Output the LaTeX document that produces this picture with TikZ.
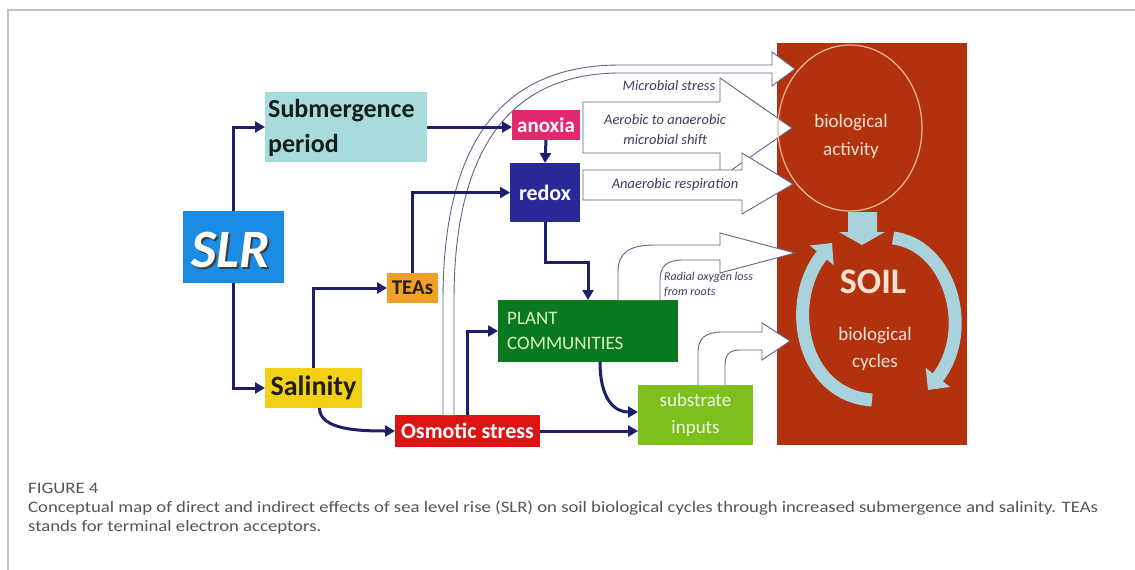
\documentclass[tikz,border=0pt]{standalone}
\usepackage{fontspec}
\setmainfont{Carlito}
\usetikzlibrary{arrows.meta,calc,shapes.geometric}
\definecolor{slrc}{RGB}{27,140,227}
\definecolor{subc}{RGB}{168,220,220}
\definecolor{salc}{RGB}{242,208,20}
\definecolor{teac}{RGB}{240,160,40}
\definecolor{anoxc}{RGB}{226,40,110}
\definecolor{redoxc}{RGB}{40,40,150}
\definecolor{plantc}{RGB}{10,120,30}
\definecolor{substc}{RGB}{125,192,30}
\definecolor{osmc}{RGB}{222,20,20}
\definecolor{navy}{RGB}{30,30,110}
\definecolor{holc}{RGB}{95,100,135}
\definecolor{labc}{RGB}{60,62,95}
\definecolor{soilc}{RGB}{178,50,14}
\definecolor{peach}{RGB}{250,225,210}
\definecolor{ringc}{RGB}{245,185,150}
\definecolor{soilarrow}{RGB}{168,210,220}
\definecolor{capc}{RGB}{85,85,85}
\definecolor{framec}{RGB}{195,195,195}
\begin{document}
\begin{tikzpicture}[x=1pt,y=-1pt,
  box/.style={draw=none,inner sep=0pt,outer sep=0pt},
  conn/.style={draw=navy,line width=3pt,-{Triangle[width=11pt,length=10pt]}},
  hollow/.style={draw=holc,line width=0.9pt,fill=white,line join=miter},
  lab/.style={font=\fontsize{14.5}{20}\selectfont\itshape,text=labc,align=center},
  soilarr/.style={draw=soilarrow,line width=13pt,-{Triangle[width=30pt,length=16pt]}},
  captext/.style={font=\fontsize{16}{19}\selectfont,text=capc,anchor=west,inner sep=0pt}]
\useasboundingbox (0,0) rectangle (1135,570);
\fill[white] (0,0) rectangle (1135,570);
% frame
\draw[framec,line width=2pt] (8,570) -- (8,10) -- (1135,10);
% soil background
\node[box,fill=soilc,minimum width=190pt,minimum height=402pt] (soil) at (872,244) {};
% boxes
\node[box,fill=slrc,minimum width=101pt,minimum height=72pt] (SLR) at (233,247) {};
\node[text=black!75,font=\fontsize{54}{54}\selectfont\bfseries\itshape] at (233,252) {SLR};
\node[text=white,font=\fontsize{54}{54}\selectfont\bfseries\itshape] at (231,250) {SLR};
\node[box,fill=subc,minimum width=162pt,minimum height=70pt] (Sub) at (346,127) {};
\node[anchor=west,inner sep=0pt,align=left,text={rgb,255:red,20;green,30;blue,30},font=\fontsize{26}{35}\selectfont\bfseries] at (268,128) {Submergence\\period};
\node[box,fill=salc,minimum width=97pt,minimum height=40pt,text={rgb,255:red,30;green,30;blue,20},font=\fontsize{28}{28}\selectfont\bfseries] (Sal) at (313.5,388) {Salinity};
\node[box,fill=teac,minimum width=51pt,minimum height=30pt,text={rgb,255:red,40;green,30;blue,20},font=\fontsize{21}{21}\selectfont\bfseries] (TEAs) at (412.5,288) {TEAs};
\node[box,fill=anoxc,minimum width=68pt,minimum height=30pt,text=white,font=\fontsize{21}{21}\selectfont\bfseries] (anox) at (546,125) {anoxia};
\node[box,fill=redoxc,minimum width=70pt,minimum height=59pt,text=white,font=\fontsize{22}{22}\selectfont\bfseries] (redox) at (545,192.5) {redox};
\node[box,fill=osmc,minimum width=145pt,minimum height=32pt,text=white,font=\fontsize{22}{22}\selectfont\bfseries] (Osm) at (467.5,431) {Osmotic stress};
\node[box,fill=plantc,minimum width=180pt,minimum height=62pt] (Plant) at (588,331) {};
\node[anchor=west,inner sep=0pt,align=left,text={rgb,255:red,215;green,242;blue,200},font=\fontsize{19}{25}\selectfont] at (507,331) {PLANT\\COMMUNITIES};
\node[box,fill=substc,minimum width=115pt,minimum height=60pt,align=center,text={rgb,255:red,238;green,246;blue,228},font=\fontsize{19}{27}\selectfont] (Subs) at (695.5,415) {substrate\\inputs};
% hollow arrows
\draw[hollow] ([xshift=-24.5pt]Osm.north) -- (443,300) .. controls (443,120) and (520,65) .. (620,65) -- (772,65) -- (772,52) -- (795,69) -- (772,86) -- (772,73) -- (620,73) .. controls (525,73) and (454,130) .. (454,300) -- ([xshift=-13.5pt]Osm.north);
\draw[hollow] (583,102) -- (720,102) -- (720,78) -- (792,128) -- (720,178) -- (720,153) -- (583,153) -- cycle;
\draw[hollow] (583,170) -- (742,170) -- (742,153) -- (793,184) -- (742,214) -- (742,200) -- (583,200) -- cycle;
\draw[hollow] ([xshift=30pt]Plant.north) -- (618,272) .. controls (618,252) and (630,245) .. (655,245) -- (720,245) -- (720,233) -- (795,253) -- (720,273) -- (720,260) -- (683,260) .. controls (667,260) and (660,266) .. (660,280) -- ([xshift=72pt]Plant.north);
\draw[hollow] ([xshift=2.5pt]Subs.north) -- (698,352) .. controls (698,338) and (706,332) .. (722,332) -- (762,332) -- (762,323) -- (790,341) -- (762,360) -- (762,350) -- (740,350) .. controls (730,350) and (725,354) .. (725,365) -- ([xshift=29.5pt]Subs.north);
\node[lab] at (669,86) {Microbial stress};
\node[lab] at (665,130) {Aerobic to anaerobic\\microbial shift};
\node[lab] at (675,185) {Anaerobic respiration};
\node[anchor=west,inner sep=0pt,align=left,text=labc,font=\fontsize{12}{15}\selectfont\itshape] at (664,285) {Radial oxygen loss\\from roots};
% biological activity circle
\node[ellipse,draw=ringc,line width=1.2pt,minimum width=144pt,minimum height=166pt,inner sep=0pt] (bio) at (850,128) {};
\node[align=center,text=peach,font=\fontsize{19}{28}\selectfont] at (851,136) {biological\\activity};
% soil arrows
\fill[soilarrow] (848,212) -- (877,212) -- (877,232) -- (885,232) -- (862,245) -- (839,232) -- (848,232) -- cycle;
\draw[soilarr] (893,238) .. controls (950,245) and (975,330) .. (928,390);
\draw[soilarr] (872,400) .. controls (800,395) and (785,300) .. (832,243);
\node[text=peach,font=\fontsize{36}{36}\selectfont\bfseries] at (873,282) {SOIL};
\node[align=center,text=peach,font=\fontsize{19}{27}\selectfont] at (875,349) {biological\\cycles};
% connectors
\draw[conn] (SLR.north) |- (Sub.west);
\draw[conn] (SLR.south) |- (Sal.west);
\draw[conn] (Sub.east) -- (Sub.east -| anox.west);
\draw[conn] (anox.south) -- (redox.north);
\draw[conn] (TEAs.north) |- (redox.west);
\draw[conn] (Sal.north) |- (TEAs.west);
\draw[conn] ([xshift=6pt]Sal.south) .. controls +(0,22) and +(-35,0) .. (Osm.west);
\draw[conn] (redox.south) -- ++(0,40) -| (Plant.north);
\draw[conn] (Osm.north) |- (Plant.west);
\draw[conn] (Osm.east) -- (Osm.east -| Subs.west);
\draw[conn] ([xshift=12pt]Plant.south) .. controls +(0,35) and +(-25,0) .. ([yshift=3pt]Subs.west);
% caption
\node[captext] (fig) at (28,488) {\scalebox{1.17}[1]{FIGURE 4}};
\node[captext] (c1) at (28,508) {\scalebox{1.17}[1]{Conceptual map of direct and indirect effects of sea level rise (SLR) on soil biological cycles through increased submergence and salinity. TEAs}};
\node[captext] (c2) at (28,527) {\scalebox{1.17}[1]{stands for terminal electron acceptors.}};
\end{tikzpicture}
\end{document}
